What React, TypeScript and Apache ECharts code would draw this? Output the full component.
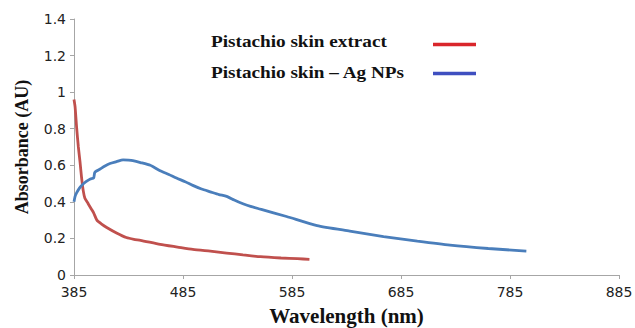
import React, { useEffect, useRef } from "react";
import * as echarts from "echarts";

const extractWavelength = [385, 386, 387.5, 389, 390.5, 392, 393.5, 395, 398, 401, 403, 406, 410, 415, 424, 433, 440, 446, 464, 480, 494, 510, 525, 540, 556, 575, 590, 601];
const extractAbsorbance = [0.96, 0.92, 0.8, 0.7, 0.62, 0.53, 0.46, 0.42, 0.39, 0.36, 0.34, 0.3, 0.28, 0.26, 0.23, 0.205, 0.195, 0.19, 0.168, 0.153, 0.14, 0.13, 0.12, 0.11, 0.1, 0.093, 0.089, 0.086];

const agWavelength = [385, 386, 387.5, 390, 392, 396, 400, 403, 404, 406, 409, 413, 418, 424, 430, 435, 439, 446, 455, 464, 472, 479, 487, 494, 502, 510, 518, 525, 532, 540, 547, 556, 580, 608, 638, 669, 700, 730, 765, 800];
const agAbsorbance = [0.4, 0.43, 0.45, 0.475, 0.49, 0.51, 0.525, 0.53, 0.56, 0.57, 0.58, 0.595, 0.61, 0.62, 0.63, 0.628, 0.625, 0.615, 0.6, 0.57, 0.55, 0.53, 0.51, 0.49, 0.47, 0.455, 0.44, 0.43, 0.41, 0.39, 0.375, 0.36, 0.32, 0.27, 0.24, 0.21, 0.185, 0.163, 0.145, 0.131];

const seriesNames = ["Pistachio skin extract", "Pistachio skin \u2013 Ag NPs"];
const xTitle = "Wavelength (nm)";
const yTitle = "Absorbance (AU)";

export default function App() {
  const ref = useRef<HTMLDivElement>(null);
  useEffect(() => {
    if (!ref.current) return;
    const chart = echarts.init(ref.current, null, { renderer: "svg" });
    const axisColor = "#a6a6a6";
    const serif = "'Liberation Serif', 'Times New Roman', serif";
    const sans = "'DejaVu Sans', Verdana, sans-serif";
    chart.setOption({
      animation: false,
      backgroundColor: "#ffffff",
      grid: { left: 74, right: 16, top: 19, bottom: 53, outerBoundsMode: "none", containLabel: false },
      xAxis: {
        type: "value",
        min: 385,
        max: 885,
        interval: 100,
        name: xTitle,
        nameLocation: "middle",
        nameGap: 30,
        nameTextStyle: { fontFamily: serif, fontWeight: "bold", fontSize: 21, color: "#111" },
        axisLine: { lineStyle: { color: axisColor, width: 1 } },
        axisTick: { show: true, length: 4, lineStyle: { color: axisColor } },
        axisLabel: { fontFamily: sans, fontSize: 14, color: "#222", margin: 10 },
        splitLine: { show: false },
      },
      yAxis: {
        type: "value",
        min: 0,
        max: 1.4,
        interval: 0.2,
        name: yTitle,
        nameLocation: "middle",
        nameGap: 43,
        nameTextStyle: { fontFamily: serif, fontWeight: "bold", fontSize: 18, color: "#111" },
        axisLine: { show: true, lineStyle: { color: axisColor, width: 1 } },
        axisTick: { show: true, length: 4, lineStyle: { color: axisColor } },
        axisLabel: { fontFamily: sans, fontSize: 14, color: "#222", margin: 8 },
        splitLine: { show: false },
      },
      series: [
        {
          name: seriesNames[0],
          type: "line",
          data: extractWavelength.map((w, i) => [w, extractAbsorbance[i]]),
          showSymbol: false,
          smooth: 0.2,
          lineStyle: { color: "#c0504d", width: 2.8 },
        },
        {
          name: seriesNames[1],
          type: "line",
          data: agWavelength.map((w, i) => [w, agAbsorbance[i]]),
          showSymbol: false,
          smooth: 0.2,
          lineStyle: { color: "#4a7ebb", width: 2.8 },
        },
      ],
      graphic: [
        {
          type: "text",
          left: 211,
          top: 34,
          style: { text: seriesNames[0], font: `bold 16px ${serif}`, fill: "#111" },
          scaleX: 1.2,
        },
        {
          type: "text",
          left: 211,
          top: 65,
          style: { text: seriesNames[1], font: `bold 16px ${serif}`, fill: "#111" },
          scaleX: 1.2,
        },
        {
          type: "line",
          shape: { x1: 433, y1: 44.5, x2: 476, y2: 44.5 },
          style: { stroke: "#d9262b", lineWidth: 3.5 },
        },
        {
          type: "line",
          shape: { x1: 433, y1: 73.5, x2: 476, y2: 73.5 },
          style: { stroke: "#3f4fc0", lineWidth: 3.5 },
        },
      ],
    });
    return () => chart.dispose();
  }, []);
  return (
    <div
      ref={ref}
      style={{ position: "fixed", left: 0, top: 0, width: 635, height: 328, background: "#fff" }}
    />
  );
}
